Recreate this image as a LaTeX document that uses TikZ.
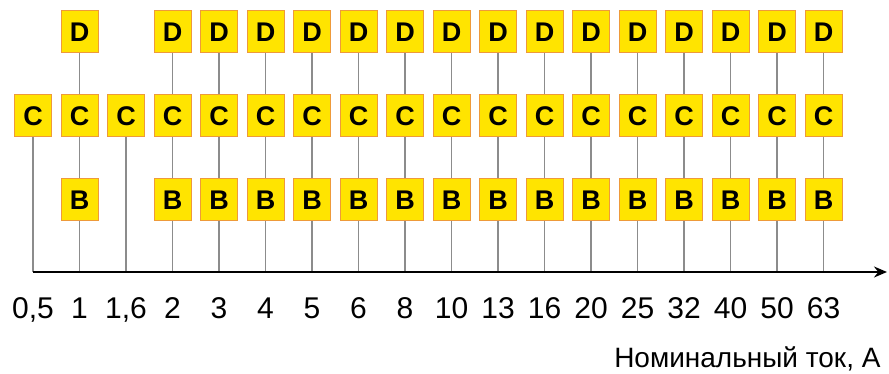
\documentclass[tikz,border=0pt]{standalone}
\usepackage{fontspec}
\setmainfont{Liberation Sans}
\usetikzlibrary{arrows.meta, positioning}
\definecolor{BoxYellow}{HTML}{FFE400}
\definecolor{BoxOrange}{HTML}{EE9A3A}
\definecolor{LineGray}{HTML}{8C8C8C}
\tikzset{
    % Boxes for the curve letters
    curve box/.style={
        rectangle,
        draw=BoxOrange,
        fill=BoxYellow,
        line width=1pt,
        minimum width=37pt,
        minimum height=42pt,
        inner sep=0pt,
        font=\fontsize{27}{27}\selectfont\bfseries
    },
    stem/.style={
        LineGray,
        line width=1.5pt
    },
    axis style/.style={
        -{Stealth[length=13pt, width=11pt]},
        line width=2pt,
        black
    },
    tick label/.style={
        anchor=base,
        font=\fontsize{30}{30}\selectfont
    }
}

\begin{document}
\begin{tikzpicture}[x=1pt, y=-1pt]
        \useasboundingbox (0,0) rectangle (889,374);

        % Axis points and current values
        \foreach \i/\amp in {0/{0,5}, 1/1, 2/{1,6}, 3/2, 4/3, 5/4, 6/5, 7/6, 8/8, 9/10,
                             10/13, 11/16, 12/20, 13/25, 14/32, 15/40, 16/50, 17/63} {
            \coordinate (t\i) at ({33+46.5*\i}, 272);
            \node[tick label] (l\i) at ({33+46.5*\i}, 318) {\amp};
        }

        % C for every rating
        \foreach \i in {0,...,17}
            \node[curve box] (c\i) at ({33+46.5*\i}, 116) {C};

        % D and B where they exist
        \foreach \i in {1,3,4,5,6,7,8,9,10,11,12,13,14,15,16,17} {
            \node[curve box] (d\i) at ({33+46.5*\i}, 32) {D};
            \node[curve box] (b\i) at ({33+46.5*\i}, 200) {B};
            \draw[stem] (d\i) -- (c\i);
            \draw[stem] (c\i) -- (b\i);
            \draw[stem] (b\i) -- (t\i);
        }
        \foreach \i in {0,2}
            \draw[stem] (c\i) -- (t\i);

        % Axis
        \coordinate (axis end) at (887, 272);
        \draw[axis style] (t0) -- (axis end);
        \node[tick label, anchor=base east, font=\fontsize{28}{28}\selectfont] (unit) at (884, 367) {Номинальный ток, А};
    \end{tikzpicture}
\end{document}
